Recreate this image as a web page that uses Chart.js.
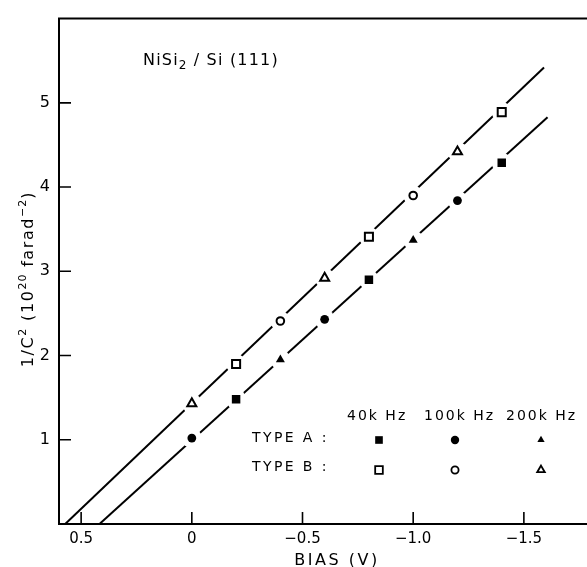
<!DOCTYPE html>
<html><head><meta charset="utf-8">
<script src="https://cdn.jsdelivr.net/npm/chart.js@4/dist/chart.umd.min.js"></script>
<style>html,body{margin:0;padding:0;background:#fff;overflow:hidden}canvas{display:block}</style>
</head><body>
<canvas id="c" width="587" height="567"></canvas>
<script>
// ---- data ----
const biasV = [0, -0.2, -0.4, -0.6, -0.8, -1.0, -1.2, -1.4];
const typeA = [1.02, 1.48, 1.95, 2.43, 2.90, 3.37, 3.84, 4.29];
const typeAFreq = ['100k', '40k', '200k', '100k', '40k', '200k', '100k', '40k'];
const typeB = [1.43, 1.90, 2.41, 2.92, 3.41, 3.90, 4.42, 4.89];
const typeBFreq = ['200k', '40k', '100k', '200k', '40k', '100k', '200k', '40k'];
const fitAx = [0.417, -1.607];
const fitAy = [0, 4.83];
const fitBx = [0.572, -1.591];
const fitBy = [0, 5.42];
const freqKeys = ['40k', '100k', '200k'];
const freqLabels = ['40k Hz', '100k Hz', '200k Hz'];
const typeLabels = ['TYPE A :', 'TYPE B :'];
const xTickValues = [0.5, 0, -0.5, -1.0, -1.5];
const xTickLabels = ['0.5', '0', '\u22120.5', '\u22121.0', '\u22121.5'];
const yTickValues = [1, 2, 3, 4, 5];
const yTickLabels = ['1', '2', '3', '4', '5'];

// ---- styles ----
const FONT = '"DejaVu Sans", sans-serif';
const styleOf = {'40k': 'rect', '100k': 'circle', '200k': 'triangle'};
const rOpen = {rect: 5.7, circle: 3.8, triangle: 5.2};
const rFill = {rect: 6.0, circle: 4.4, triangle: 5.2};

const pts = (xs, ys) => xs.map((x, i) => ({x: x, y: ys[i]}));

function drawText(ctx, s, x, y, size, ls) {
  ctx.font = size + 'px ' + FONT;
  ctx.letterSpacing = (ls || 0) + 'px';
  ctx.fillText(s, x, y);
  return ctx.measureText(s).width;
}
function richWidth(ctx, segs) {
  let w = 0;
  for (const g of segs) { ctx.font = g.s + 'px ' + FONT; ctx.letterSpacing = (g.ls || 0) + 'px'; w += ctx.measureText(g.t).width; }
  return w;
}
function drawRich(ctx, segs, x, y) {
  let cx = x;
  for (const g of segs) { cx += drawText(ctx, g.t, cx, y + (g.dy || 0), g.s, g.ls); }
}
function drawMarker(ctx, style, x, y, r, filled) {
  ctx.beginPath();
  if (style === 'rect') { const h = r * Math.SQRT1_2; ctx.rect(x - h, y - h, 2 * h, 2 * h); }
  else if (style === 'circle') { ctx.arc(x, y, r, 0, Math.PI * 2); }
  else { const a = Math.PI * 2 / 3; ctx.moveTo(x, y - r); ctx.lineTo(x + Math.sin(a) * r, y - Math.cos(a) * r); ctx.lineTo(x + Math.sin(2 * a) * r, y - Math.cos(2 * a) * r); ctx.closePath(); }
  if (filled) { ctx.fillStyle = '#000'; ctx.fill(); }
  else { ctx.fillStyle = '#fff'; ctx.fill(); ctx.lineWidth = 1.8; ctx.strokeStyle = '#000'; ctx.stroke(); }
}

const decor = {
  id: 'decor',
  afterDraw(chart) {
    const ctx = chart.ctx, a = chart.chartArea, xs = chart.scales.x, ys = chart.scales.y;
    ctx.save();
    ctx.strokeStyle = '#000'; ctx.fillStyle = '#000'; ctx.lineCap = 'butt';
    ctx.lineWidth = 2;
    ctx.beginPath();
    ctx.moveTo(a.left, a.top); ctx.lineTo(chart.width, a.top);
    ctx.moveTo(a.left, a.top - 1); ctx.lineTo(a.left, a.bottom + 1);
    ctx.moveTo(a.left - 1, a.bottom); ctx.lineTo(chart.width, a.bottom);
    ctx.stroke();
    ctx.lineWidth = 1.6;
    ctx.beginPath();
    for (const v of xTickValues) { const px = xs.getPixelForValue(v); ctx.moveTo(px, a.bottom); ctx.lineTo(px, a.bottom - 12); }
    for (const v of yTickValues) { const py = ys.getPixelForValue(v); ctx.moveTo(a.left, py); ctx.lineTo(a.left + 12, py); }
    ctx.stroke();
    ctx.textBaseline = 'alphabetic'; ctx.textAlign = 'left';
    ctx.font = '16px ' + FONT; ctx.letterSpacing = '2.5px';
    const xt = 'BIAS (V)';
    const xw = ctx.measureText(xt).width;
    drawText(ctx, xt, 337 - xw / 2, 565, 16, 2.5);
    const segs = [
      {t: '1/C', s: 16, ls: 1.6}, {t: '2', s: 11, dy: -7, ls: 1},
      {t: ' (10', s: 16, ls: 1.6}, {t: '20', s: 11, dy: -7, ls: 1},
      {t: ' farad', s: 16, ls: 1.6}, {t: '\u22122', s: 11, dy: -7, ls: 1}, {t: ')', s: 16, ls: 1.6}
    ];
    const yw = richWidth(ctx, segs);
    ctx.save();
    ctx.translate(33, 279 + yw / 2);
    ctx.rotate(-Math.PI / 2);
    drawRich(ctx, segs, 0, 0);
    ctx.restore();
    drawRich(ctx, [
      {t: 'NiSi', s: 16, ls: 1.2}, {t: '2', s: 12, dy: 4, ls: 1},
      {t: ' / Si (111)', s: 16, ls: 1.2}
    ], 143, 65);
    const hx = [347, 424, 506];
    freqLabels.forEach((t, i) => drawText(ctx, t, hx[i], 420, 14, 2));
    drawText(ctx, typeLabels[0], 252, 442, 14, 2.4);
    drawText(ctx, typeLabels[1], 252, 471, 14, 2.4);
    const mx = [379, 455, 541];
    freqKeys.forEach((k, i) => {
      const st = styleOf[k];
      drawMarker(ctx, st, mx[i], 440, st === 'rect' ? 5.4 : 4.2, true);
      drawMarker(ctx, st, mx[i], 470, st === 'rect' ? 5.4 : (st === 'circle' ? 3.6 : 4.4), false);
    });
    ctx.restore();
  }
};

const haloPts = pts(biasV, typeA).concat(pts(biasV, typeB));

new Chart(document.getElementById('c'), {
  type: 'scatter',
  data: {
    datasets: [
      {label: 'TYPE A', data: pts(biasV, typeA), order: 1,
       pointStyle: typeAFreq.map(f => styleOf[f]), pointRadius: typeAFreq.map(f => rFill[styleOf[f]]),
       pointBackgroundColor: '#000', pointBorderColor: '#000', pointBorderWidth: 0, showLine: false},
      {label: 'TYPE B', data: pts(biasV, typeB), order: 2,
       pointStyle: typeBFreq.map(f => styleOf[f]), pointRadius: typeBFreq.map(f => rOpen[styleOf[f]]),
       pointBackgroundColor: '#fff', pointBorderColor: '#000', pointBorderWidth: 2, showLine: false},
      {label: 'halo', data: haloPts, order: 3, pointStyle: 'circle', pointRadius: 10,
       pointBackgroundColor: '#ffffff', pointBorderColor: '#ffffff', pointBorderWidth: 0, showLine: false},
      {label: 'fit A', data: pts(fitAx, fitAy), order: 4, showLine: true, pointRadius: 0,
       borderColor: '#000', borderWidth: 2, fill: false},
      {label: 'fit B', data: pts(fitBx, fitBy), order: 5, showLine: true, pointRadius: 0,
       borderColor: '#000', borderWidth: 2, fill: false}
    ]
  },
  options: {
    responsive: false, animation: false, devicePixelRatio: 1,
    layout: {padding: {top: 14, right: 1, left: 0, bottom: 0}},
    plugins: {legend: {display: false}, tooltip: {enabled: false}},
    scales: {
      x: {type: 'linear', reverse: true, min: -1.74, max: 0.6,
          afterBuildTicks: s => { s.ticks = xTickValues.map(v => ({value: v})); },
          afterFit: s => { s.height = 43; },
          grid: {display: false, drawTicks: false}, border: {display: false},
          ticks: {font: {family: 'DejaVu Sans', size: 15}, color: '#000', padding: 6,
                  maxRotation: 0, autoSkip: false, callback: (v, i) => xTickLabels[i]}},
      y: {type: 'linear', min: 0, max: 6,
          afterBuildTicks: s => { s.ticks = yTickValues.map(v => ({value: v})); },
          afterFit: s => { s.width = 59; },
          grid: {display: false, drawTicks: false}, border: {display: false},
          ticks: {font: {family: 'DejaVu Sans', size: 16}, color: '#000', padding: 9,
                  autoSkip: false, callback: (v, i) => yTickLabels[i]}}
    }
  },
  plugins: [decor]
});
</script>
</body></html>
